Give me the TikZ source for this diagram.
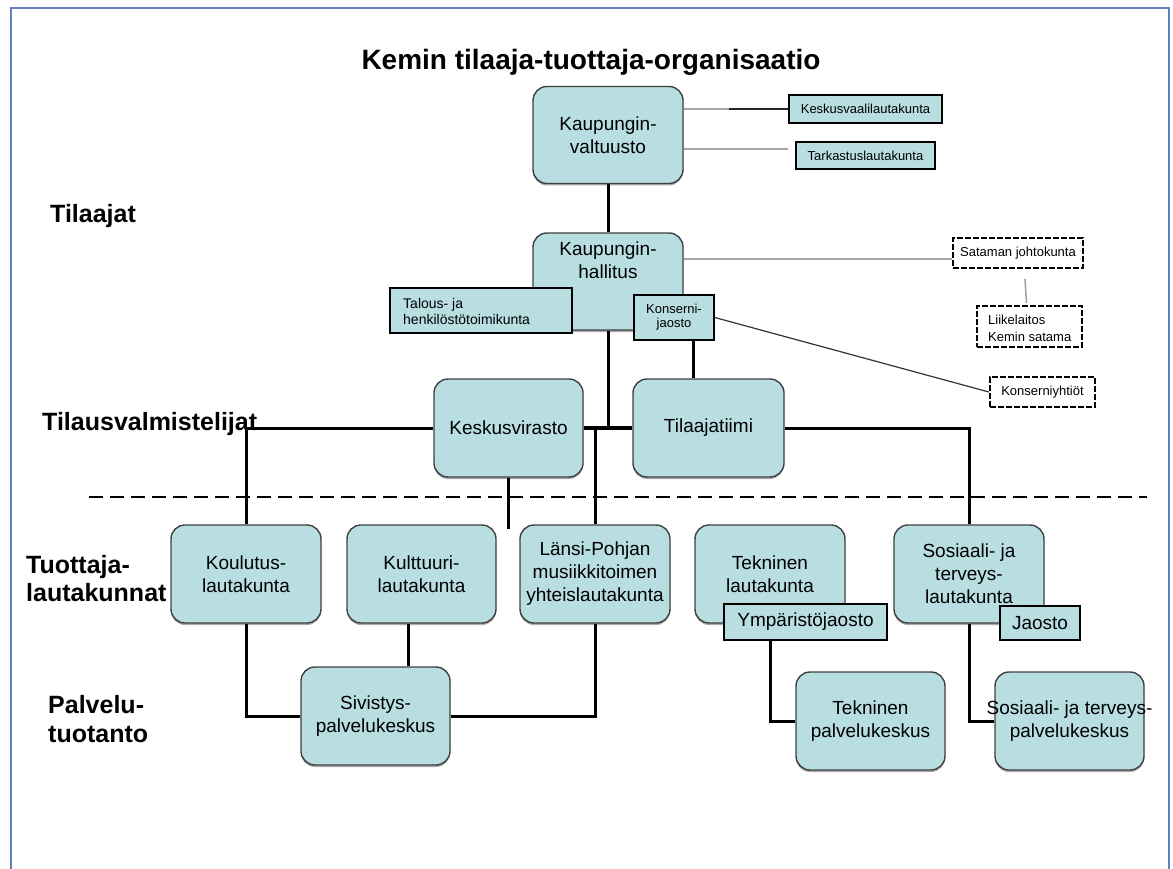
\documentclass[tikz,border=0pt]{standalone}
\usepackage{fontspec}
\setmainfont{Liberation Sans}
\usetikzlibrary{shadows,calc}
\definecolor{boxfill}{RGB}{184,222,226}
\definecolor{framec}{RGB}{95,130,185}
\definecolor{linegray}{RGB}{165,165,165}
\begin{document}
\begin{tikzpicture}[x=1pt,y=-1pt,
  rbox/.style={draw=black!75, line width=1.4pt, fill=boxfill, rounded corners=14pt,
    inner sep=0pt, align=center, font=\fontsize{19}{23}\selectfont,
    drop shadow={shadow xshift=0pt, shadow yshift=-2pt, fill=black!55, opacity=0.6}},
  btext/.style={inner sep=0pt, align=center, font=\fontsize{19}{23}\selectfont},
  sbox/.style={draw=black, line width=1.5pt, fill=boxfill, inner sep=0pt, align=center},
  dbox/.style={draw=black, line width=2.2pt, dash pattern=on 6pt off 2pt, fill=white,
    inner sep=0pt, align=center, font=\fontsize{13}{17}\selectfont},
  small/.style={font=\fontsize{13}{15}\selectfont},
  main/.style={line width=3pt, black},
  grayline/.style={line width=1.6pt, linegray},
  darkline/.style={line width=1.2pt, black!80},
  lab/.style={font=\fontsize{25}{30}\selectfont\bfseries, anchor=base west, inner sep=0pt},
]
\useasboundingbox (0,0) rectangle (1173,869);
\fill[white] (0,0) rectangle (1173,869);
\draw[framec, line width=1.5pt] (11,880) -- (11,8) -- (1169,8) -- (1169,880);

% title and side labels
\node[inner sep=0pt, anchor=base, font=\fontsize{28}{32}\selectfont\bfseries] (title) at (591,70) {Kemin tilaaja-tuottaja-organisaatio};
\node[lab] (l1) at (50,223) {Tilaajat};
\node[lab] (l2) at (42,430) {Tilausvalmistelijat};
\node[lab] (l3a) at (26,573) {Tuottaja-};
\node[lab] (l3b) at (26,601) {lautakunnat};
\node[lab] (l4a) at (48,713) {Palvelu-};
\node[lab] (l4b) at (48,742) {tuotanto};

% dashed separator
\draw[line width=2.2pt, dash pattern=on 14pt off 7pt] (89,497) -- (1147,497);

% top level
\node[rbox, minimum width=150pt, minimum height=97pt] (vt) at (608,135) {Kaupungin-\\valtuusto};
\node[rbox, minimum width=150pt, minimum height=97pt] (hall) at (608,281.5) {};
\node[btext] (hallt) at (608,260) {Kaupungin-\\hallitus};
\node[sbox, small, minimum width=153pt, minimum height=28pt] (kv) at (865.5,109) {Keskusvaalilautakunta};
\node[sbox, small, minimum width=139pt, minimum height=27pt] (tl) at (865.5,155.5) {Tarkastuslautakunta};
\node[dbox, minimum width=130pt, minimum height=30pt] (sj) at (1018,253) {Sataman johtokunta};
\node[dbox, minimum width=105pt, minimum height=41pt] (ll) at (1029.5,326.5) {};
\node[inner sep=0pt, anchor=west, align=left, font=\fontsize{13}{17}\selectfont] (llt) at (988,328) {Liikelaitos\\Kemin satama};
\node[dbox, minimum width=105pt, minimum height=30pt] (ky) at (1042.5,392) {Konserniyhtiöt};
\node[sbox, minimum width=182pt, minimum height=45pt] (tal) at (481,310.5) {};
\node[inner sep=0pt, anchor=west, align=left, font=\fontsize{14}{16}\selectfont] (talt) at (403,311) {Talous- ja\\henkilöstötoimikunta};
\node[sbox, font=\fontsize{13}{14}\selectfont, minimum width=80pt, minimum height=45pt] (kj) at (674,317.5) {Konserni-\\jaosto};

% middle level
\node[rbox, minimum width=149pt, minimum height=98pt] (kesk) at (508.5,428) {Keskusvirasto};
\node[rbox, minimum width=151pt, minimum height=98pt] (tt) at (708.5,428) {Tilaajatiimi};

% boards
\node[rbox, minimum width=150pt, minimum height=98pt] (kou) at (246,574) {Koulutus-\\lautakunta};
\node[rbox, minimum width=149pt, minimum height=98pt] (kul) at (421.5,574) {Kulttuuri-\\lautakunta};
\node[rbox, minimum width=150pt, minimum height=98pt] (lp) at (595,574) {Länsi-Pohjan\\musiikkitoimen\\yhteislautakunta};
\node[rbox, minimum width=150pt, minimum height=98pt] (tek) at (770,574) {Tekninen\\lautakunta};
\node[sbox, font=\fontsize{19}{23}\selectfont, minimum width=163pt, minimum height=36pt] (ymp) at (805.5,622) {Ympäristöjaosto};
\node[rbox, minimum width=150pt, minimum height=98pt] (sos) at (969,574) {Sosiaali- ja\\terveys-\\lautakunta};
\node[sbox, font=\fontsize{19}{23}\selectfont, minimum width=80pt, minimum height=34pt] (jao) at (1040,623) {Jaosto};

% service production
\node[rbox, minimum width=149pt, minimum height=98pt] (siv) at (375.5,716) {Sivistys-\\palvelukeskus};
\node[rbox, minimum width=149pt, minimum height=98pt] (tpk) at (870.5,721) {Tekninen\\palvelukeskus};
\node[rbox, minimum width=149pt, minimum height=98pt] (spk) at (1069.5,721) {};
\node[btext] (spkt) at (1069.5,721) {Sosiaali- ja terveys-\\palvelukeskus};

% helper coordinates
\coordinate (tlw) at ([xshift=-7pt,yshift=6.5pt]tl.west);
\coordinate (sjw) at ([yshift=-6pt]sj.west);
\coordinate (kvb) at ([xshift=-59pt]kv.west);
\coordinate (kend) at ([yshift=-51pt]kesk.south);

% connectors
\draw[main] (vt.south) -- (hall.north);
\draw[grayline] (vt.east |- kv.west) -- (kv.west);
\draw[line width=1.6pt, black!85] (kvb) -- (kv.west);
\draw[grayline] (vt.east |- tlw) -- (tlw);
\draw[grayline] (hall.east |- sjw) -- (sjw);
\draw[grayline] ([xshift=7pt,yshift=-10pt]sj.south) -- ([xshift=-3pt,yshift=2pt]ll.north);
\draw[darkline] (kj.east) -- (ky.west);
\draw[main] (hall.south) -- (hall.south |- kesk.east);
\draw[main] ([xshift=19pt]kj.south) -- ([xshift=19pt]kj.south |- tt.north);
\draw[line width=3.6pt] (kesk.east) -- (tt.west);
\draw[main] (kesk.west) -| (kou.north);
\draw[main] (lp.north |- kesk.east) -- (lp.north);
\draw[main] (kesk.south) -- (kend);
\draw[main] (tt.east) -| (sos.north);
\draw[main] (kou.south) |- (siv.west);
\draw[main] ([xshift=-13.5pt]kul.south) -- ([xshift=-13.5pt]kul.south |- siv.north);
\draw[main] (lp.south) |- (siv.east);
\draw[main] ([xshift=-35.5pt]ymp.south) |- (tpk.west);
\draw[main] (sos.south) |- (spk.west);
\end{tikzpicture}
\end{document}
